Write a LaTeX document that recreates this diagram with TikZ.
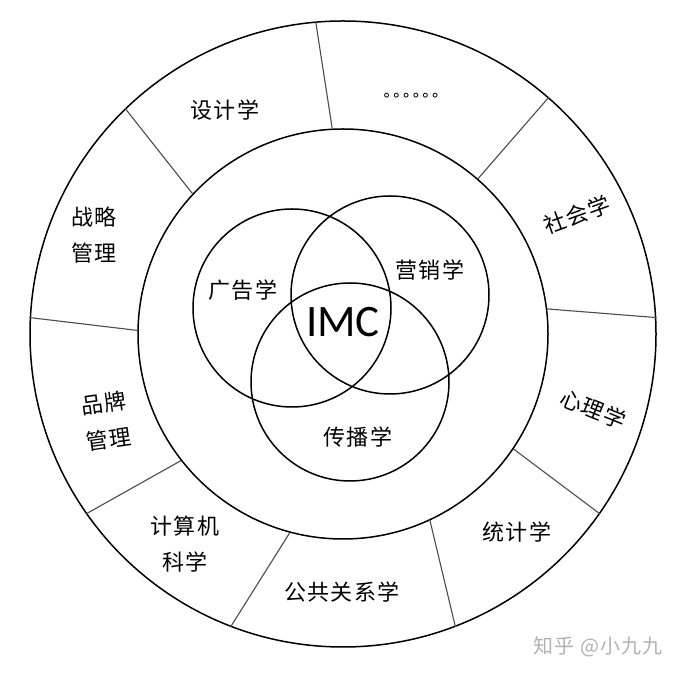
\documentclass[tikz,border=0pt]{standalone}
\usepackage{fontspec}
\setmainfont{Carlito}
\newfontfamily\cjk[LetterSpace=6]{Noto Sans CJK SC}
\newfontfamily\symfont{DejaVu Sans}
\usepackage{tikz}
\usetikzlibrary{shapes,positioning}

\begin{document}
\begin{tikzpicture}[x=1pt,y=1pt]
  \tikzstyle{ring} = [circle, draw, line width=1.5pt, inner sep=0pt]
  \tikzstyle{divider} = [draw, line width=1.1pt, black!70]
  \tikzstyle{field} = [font=\cjk\fontsize{22}{36}\selectfont, align=center, inner sep=1pt]
  \useasboundingbox (0,0) rectangle (680,674);
  \fill[white] (0,0) rectangle (680,674);

  % Rings
  \node[ring, minimum size=626pt] (outer) at (343,340) {};
  \node[ring, minimum size=410pt] (inner) at (343,340) {};

  % Venn in the middle
  \node[ring, minimum size=198pt] (adc) at (292,366) {};
  \node[ring, minimum size=198pt] (mktc) at (390,379) {};
  \node[ring, minimum size=198pt] (commc) at (350,292) {};
  \node[font=\fontsize{45}{45}\selectfont, inner sep=0pt] (imc) at (343,352) {IMC};
  \node[field] (ad) at (243,384) {广告学};
  \node[field] (mkt) at (430,404) {营销学};
  \node[field] (comm) at (358,237) {传播学};

  % Outer fields
  \node[field] (design) at (225,564) {设计学};
  \node[font=\symfont\fontsize{15.5}{16}\selectfont, inner sep=0pt] (more) at (411,577) {∘∘∘∘∘∘};
  \node[field, rotate=20] (social) at (577,459) {社会学};
  \node[field, rotate=-22] (psych) at (593,265) {心理学};
  \node[field] (stats) at (517,142) {统计学};
  \node[field] (pr) at (342,82) {公共关系学};
  \node[field] (cs) at (185,130) {计算机\\科学};
  \node[field, rotate=8] (brand) at (106,253) {品牌\\管理};
  \node[field] (strategy) at (94,439) {战略\\管理};

  % Dividers
  \draw[divider] (inner.93) -- (outer.95.8);
  \draw[divider] (inner.137) -- (outer.134.5);
  \draw[divider] (inner.179.4) -- (outer.177);
  \draw[divider] (inner.218.4) -- (outer.215.6);
  \draw[divider] (inner.255) -- (outer.249.4);
  \draw[divider] (inner.295) -- (outer.291.3);
  \draw[divider] (inner.326.5) -- (outer.325);
  \draw[divider] (inner.7.3) -- (outer.3.3);
  \draw[divider] (inner.49.9) -- (outer.49.6);

  \node[font=\cjk\fontsize{20}{20}\selectfont, text=black!30] (zhihu) at (598,27) {知乎 @小九九};
\end{tikzpicture}
\end{document}
